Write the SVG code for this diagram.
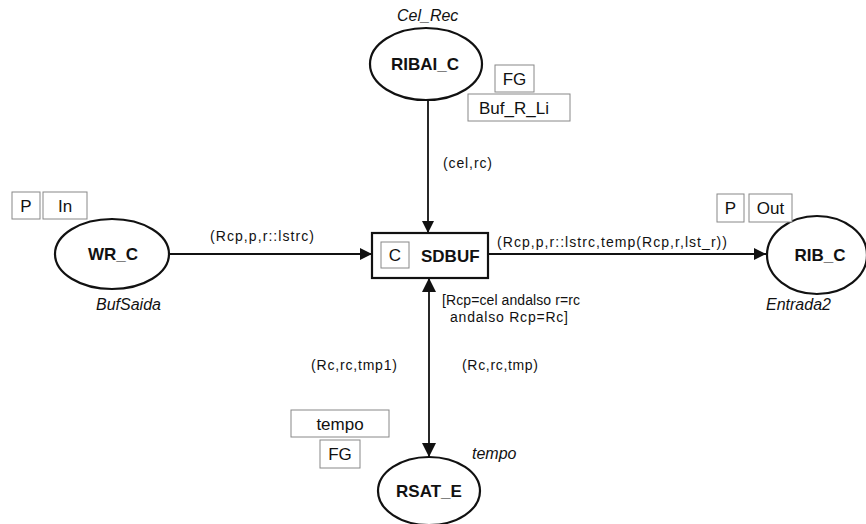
<svg xmlns="http://www.w3.org/2000/svg" width="866" height="524" viewBox="0 0 866 524">
<defs>
<style>
text{font-family:"Liberation Sans",Arial,sans-serif;fill:#111}
.node{fill:#fff;stroke:#111;stroke-width:2.2}
.name{font-size:17px;font-weight:bold;text-anchor:middle}
.lab{font-size:14px}
.it{font-size:16px;font-style:italic}
.tag{fill:#fff;stroke:#888;stroke-width:1}
.tagt{font-size:17px;text-anchor:middle}
.arc{stroke:#111;stroke-width:1.8;fill:none}
</style>
<marker id="ah" viewBox="0 0 10 10" refX="10" refY="5" markerWidth="12" markerHeight="12" markerUnits="userSpaceOnUse" orient="auto">
<path d="M0,0 L10,5 L0,10 z" fill="#111"/>
</marker>
<marker id="ah2" viewBox="0 0 10 10" refX="10" refY="5" markerWidth="14" markerHeight="14" markerUnits="userSpaceOnUse" orient="auto-start-reverse">
<path d="M0,0 L10,5 L0,10 z" fill="#111"/>
</marker>
</defs>
<rect width="866" height="524" fill="#fff"/>
<g id="connectors">
<line class="arc" x1="428" y1="100" x2="428" y2="233" marker-end="url(#ah)"/>
<line class="arc" x1="170" y1="254" x2="372" y2="254" marker-end="url(#ah)"/>
<line class="arc" x1="488" y1="254" x2="766" y2="254" marker-end="url(#ah)"/>
<line class="arc" x1="429" y1="278" x2="429" y2="457" stroke-width="3.4" marker-start="url(#ah2)" marker-end="url(#ah2)"/>
<text class="lab" x="443" y="168" textLength="49" lengthAdjust="spacing">(cel,rc)</text>
<text class="lab" x="210" y="241" textLength="104" lengthAdjust="spacing">(Rcp,p,r::lstrc)</text>
<text class="lab" x="497" y="247" textLength="230" lengthAdjust="spacing">(Rcp,p,r::lstrc,temp(Rcp,r,lst_r))</text>
<text class="lab" x="311" y="370" textLength="86" lengthAdjust="spacing">(Rc,rc,tmp1)</text>
<text class="lab" x="462" y="370" textLength="76" lengthAdjust="spacing">(Rc,rc,tmp)</text>
</g>
<g id="RIBAI_C">
<ellipse class="node" cx="426" cy="64" rx="56" ry="36"/>
<text class="name" x="425" y="70">RIBAI_C</text>
<text class="it" x="397" y="21">Cel_Rec</text>
<rect class="tag" x="495" y="65" width="39" height="27"/>
<text class="tagt" x="514.5" y="85">FG</text>
<rect class="tag" x="468" y="94" width="102" height="27"/>
<text class="tagt" x="514" y="114">Buf_R_Li</text>
</g>
<g id="WR_C">
<ellipse class="node" cx="112" cy="254" rx="57" ry="35"/>
<text class="name" x="113" y="260">WR_C</text>
<text class="it" x="96" y="310">BufSaida</text>
<rect class="tag" x="12" y="192" width="28" height="27"/>
<text class="tagt" x="26" y="212">P</text>
<rect class="tag" x="43" y="192" width="44" height="27"/>
<text class="tagt" x="65" y="212">In</text>
</g>
<g id="SDBUF">
<rect x="372" y="233" width="116" height="45" fill="#fff" stroke="#111" stroke-width="2.2"/>
<rect class="tag" x="381" y="242" width="28" height="26"/>
<text class="tagt" x="395" y="261">C</text>
<text x="421" y="262" font-size="17" font-weight="bold">SDBUF</text>
<text class="lab" x="442" y="305" textLength="138" lengthAdjust="spacing">[Rcp=cel andalso r=rc</text>
<text class="lab" x="450" y="322" textLength="118" lengthAdjust="spacing">andalso Rcp=Rc]</text>
</g>
<g id="RIB_C">
<ellipse class="node" cx="817" cy="255" rx="50" ry="39"/>
<text class="name" x="820" y="261">RIB_C</text>
<text class="it" x="766" y="310">Entrada2</text>
<rect class="tag" x="717" y="194" width="27" height="28"/>
<text class="tagt" x="730.5" y="214">P</text>
<rect class="tag" x="749" y="194" width="43" height="28"/>
<text class="tagt" x="770.5" y="214">Out</text>
</g>
<g id="RSAT_E">
<ellipse class="node" cx="429" cy="491" rx="51" ry="34"/>
<text class="name" x="429" y="497">RSAT_E</text>
<text class="it" x="472" y="459">tempo</text>
<rect class="tag" x="291" y="410" width="98" height="27"/>
<text class="tagt" x="340" y="430">tempo</text>
<rect class="tag" x="320" y="440" width="40" height="28"/>
<text class="tagt" x="340" y="460">FG</text>
</g>
</svg>
